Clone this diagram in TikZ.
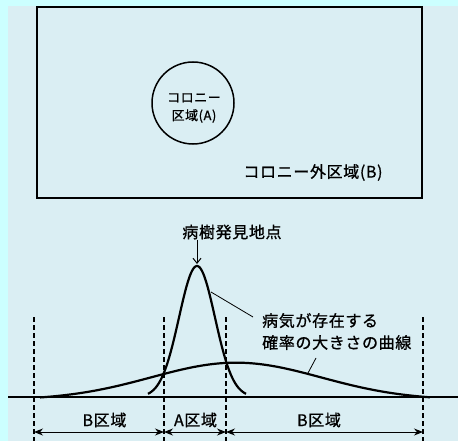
\documentclass[tikz,border=0pt]{standalone}
\usepackage{fontspec}
\setmainfont{Noto Sans CJK JP}
\newfontfamily\jpfont[LetterSpace=4,FakeBold=0.9]{Noto Sans CJK JP}
\usetikzlibrary{arrows.meta}
\definecolor{bgcyan}{HTML}{CCFFFF}
\definecolor{panel}{HTML}{DAEEF3}
\begin{document}
\begin{tikzpicture}[x=1pt,y=-1pt,
  lbl/.style={font=\jpfont\fontsize{16}{22}\selectfont, inner sep=0pt},
  lblsmall/.style={font=\jpfont\fontsize{13}{18}\selectfont, inner sep=0pt, align=center},
  curve/.style={line width=2.2pt, line join=round},
  dashline/.style={line width=1.2pt, dash pattern=on 5pt off 3pt},
  dimarrow/.style={line width=1pt, {Stealth[length=9pt,width=7pt]}-{Stealth[length=9pt,width=7pt]}},
  leader/.style={line width=0.8pt}]
\useasboundingbox (0,0) rectangle (458,441);
\fill[bgcyan] (0,0) rectangle (458,441);
\fill[panel] (8,6) rectangle (458,441);
% top area
\node[draw, line width=1.6pt, minimum width=385pt, minimum height=191pt, inner sep=0pt] (outer) at (229.5,102.5) {};
\node[draw, circle, line width=1.5pt, minimum size=82pt, inner sep=0pt] (colA) at (193,103) {};
\node[lblsmall] (colAtxt) at (194,108) {コロニー\\区域(A)};
\node[lbl] (colB) at (313,172.5) {コロニー外区域(B)};
% bottom area
\node[lbl] (find) at (232,232) {病樹発見地点};
\coordinate (peak) at (197,264);
\draw[line width=1pt, -{Straight Barb[length=5pt,width=8pt]}] (find.south -| peak) -- (peak);
% baseline
\coordinate (bl) at (8,397);
\coordinate (br) at (458,397);
\draw[line width=2pt] (bl) -- (br);
% curves
\draw[curve] plot[domain=148:246, samples=90, smooth] (\x,{397-131*exp(-0.5*((\x-197)/18)*((\x-197)/18))});
\draw[curve] plot[domain=40:430, samples=100, smooth] (\x,{397-37.4*(exp(-0.5*((\x-236)/85)*((\x-236)/85))-0.082)});
% dashed verticals
\coordinate (t1) at (34,317);  \coordinate (b1) at (34,441);
\coordinate (t2) at (164,317); \coordinate (b2) at (164,441);
\coordinate (t3) at (226,317); \coordinate (b3) at (226,441);
\coordinate (t4) at (423,317); \coordinate (b4) at (423,441);
\draw[dashline] (t1) -- (b1);
\draw[dashline] (t2) -- (b2);
\draw[dashline] (t3) -- (b3);
\draw[dashline] (t4) -- (b4);
% dimension arrows
\coordinate (d1) at (34,432);
\coordinate (d2) at (164,432);
\coordinate (d3) at (226,432);
\coordinate (d4) at (423,432);
\draw[dimarrow] (d1) -- (d2);
\draw[dimarrow] (d2) -- (d3);
\draw[dimarrow] (d3) -- (d4);
\node[lbl] (zB1) at (104.5,420) {B区域};
\node[lbl] (zA) at (195.5,420) {A区域};
\node[lbl] (zB2) at (319,420) {B区域};
% probability label and leaders
\node[lbl, align=left, anchor=west] (prob) at (262,331.5) {病気が存在する\\確率の大きさの曲線};
\coordinate (c1) at (211,292);
\coordinate (e1) at (253,317);
\coordinate (c2) at (308,373);
\coordinate (e2) at (316,358);
\draw[leader] (c1) -- (e1);
\draw[leader] (c2) -- (e2);
\end{tikzpicture}
\end{document}
